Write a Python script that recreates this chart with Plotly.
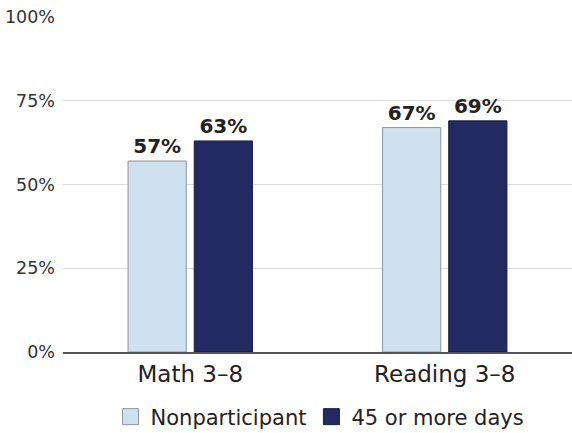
import plotly.graph_objects as go

categories = ["Math 3–8", "Reading 3–8"]
nonparticipant = [57, 67]
days_45_plus = [63, 69]
series_names = ["Nonparticipant", "45 or more days"]
tick_values = [0, 25, 50, 75, 100]
tick_labels = ["0%", "25%", "50%", "75%", "100%"]

light_blue = "#cfe1ef"
navy = "#232a62"
font_family = "'DejaVu Sans', sans-serif"

fig = go.Figure()
for name, vals, fill, edge in [
    (series_names[0], nonparticipant, light_blue, "#8f949a"),
    (series_names[1], days_45_plus, navy, "#1a1f4a"),
]:
    fig.add_trace(go.Bar(
        x=categories, y=vals, name=name, showlegend=False,
        marker=dict(color=fill, line=dict(color=edge, width=1)),
        text=[f"{v}%" for v in vals], textposition="outside",
        textfont=dict(size=20, color="#222222", family=font_family, weight="bold"),
        cliponaxis=False,
    ))
    # legend swatch
    fig.add_trace(go.Scatter(
        x=[None], y=[None], mode="markers", name=name,
        marker=dict(symbol="square", size=16, color=fill, line=dict(color=edge, width=1)),
    ))

fig.update_layout(
    width=572, height=433,
    margin=dict(l=63, r=0, t=17, b=81),
    paper_bgcolor="white", plot_bgcolor="white",
    barmode="group", bargap=0.48, bargroupgap=0.12,
    font=dict(family=font_family, color="#222222"),
    legend=dict(orientation="h", x=0.505, xanchor="center",
                yref="container", y=0.037, yanchor="middle",
                font=dict(size=21, color="#222222"), itemwidth=30, traceorder="normal"),
)
fig.update_yaxes(
    range=[0, 100], tickvals=tick_values, ticktext=tick_labels,
    showgrid=True, gridcolor="#dddddd", gridwidth=1, zeroline=False,
    tickfont=dict(size=17.5, color="#333333"), ticks="", ticklabelstandoff=7,
)
fig.update_xaxes(
    showline=True, linecolor="#555555", linewidth=1.5,
    tickfont=dict(size=23, color="#222222"), ticks="", ticklabelstandoff=1,
)

fig.write_html("out.html")
